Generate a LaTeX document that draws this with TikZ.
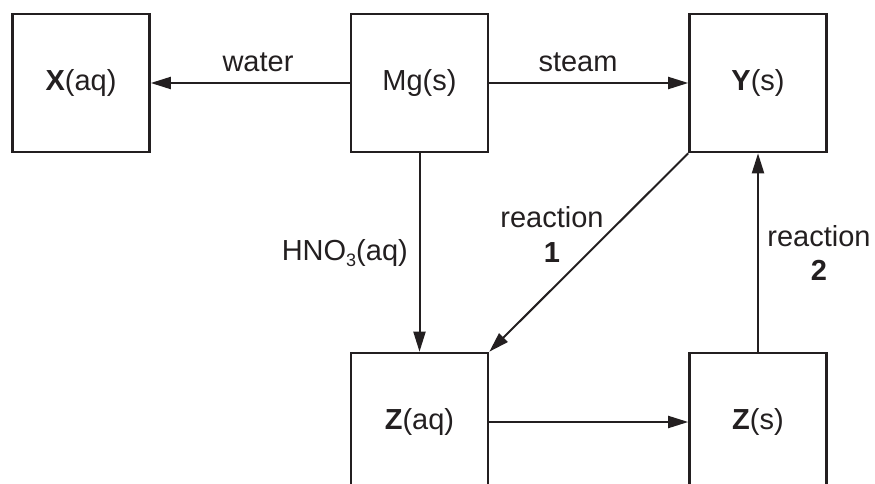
\documentclass[tikz,border=0pt]{standalone}
\usepackage{fontspec}
\setmainfont{Liberation Sans}
\usetikzlibrary{arrows.meta}
\definecolor{ink}{HTML}{231F20}
\begin{document}
\begin{tikzpicture}[x=1pt,y=-1pt,
  box/.style={draw=ink, line width=2.6pt, minimum width=137pt, minimum height=138pt, inner sep=0pt, font=\fontsize{29}{34}\selectfont, text=ink},
  conn/.style={draw=ink, line width=2pt, -{Triangle[length=20pt,width=12pt]}},
  lbl/.style={font=\fontsize{29}{34}\selectfont, text=ink, inner sep=0pt}]
\clip (0,0) rectangle (875,484);
\node[box] (X) at (81,83) {\textbf{X}(aq)};
\node[box] (Mg) at (419.5,83) {Mg(s)};
\node[box] (Y) at (758,83) {\textbf{Y}(s)};
\node[box] (Zaq) at (419.5,422) {\textbf{Z}(aq)};
\node[box] (Zs) at (758,422) {\textbf{Z}(s)};
\draw[conn] (Mg.west) -- (X.east);
\draw[conn] (Mg.east) -- (Y.west);
\draw[conn] (Mg.south) -- (Zaq.north);
\draw[conn] (Y.south west) -- (Zaq.north east);
\draw[conn] (Zaq.east) -- (Zs.west);
\draw[conn] (Zs.north) -- (Y.south);
\node[lbl, anchor=base] (water) at (258,72) {water};
\node[lbl, anchor=base] (steam) at (578,72) {steam};
\node[lbl, anchor=base east] (hno) at (408,260) {HNO\raisebox{-6pt}{\fontsize{18}{18}\selectfont 3}(aq)};
\node[lbl, anchor=base] (r1a) at (552,227) {reaction};
\node[lbl, anchor=base] (r1b) at (552,262) {\textbf{1}};
\node[lbl, anchor=base] (r2a) at (819,246) {reaction};
\node[lbl, anchor=base] (r2b) at (819,280) {\textbf{2}};
\end{tikzpicture}
\end{document}
